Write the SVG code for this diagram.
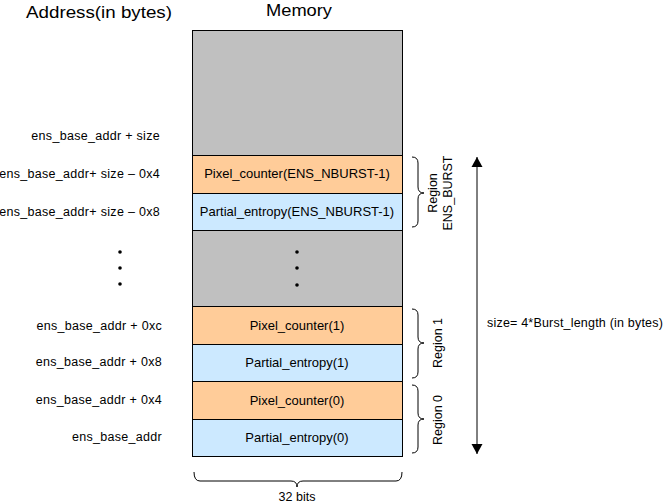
<svg xmlns="http://www.w3.org/2000/svg" width="664" height="504" viewBox="0 0 664 504">
<style>
text{font-family:"Liberation Sans",Arial,sans-serif;fill:#000}
.title{font-size:17px}
.addr{font-size:12.5px;text-anchor:end;letter-spacing:0.3px}
.cell{font-size:13px;text-anchor:middle}
.lbl{font-size:12.5px;text-anchor:middle}
.gray{fill:#C0C0C0;stroke:#000;stroke-width:1}
.orange{fill:#FFCC99;stroke:#000;stroke-width:1}
.blue{fill:#CCE9FF;stroke:#000;stroke-width:1}
.brace{fill:none;stroke:#000;stroke-width:1}
</style>
<defs>
<marker id="ah" viewBox="0 0 10 14" refX="10" refY="7" markerWidth="10" markerHeight="14" markerUnits="userSpaceOnUse" orient="auto-start-reverse">
<path d="M0,1.5 L10,7 L0,12.5 Z" fill="#000"/>
</marker>
</defs>
<text class="title" x="26" y="18" textLength="146" lengthAdjust="spacingAndGlyphs">Address(in bytes)</text>
<text class="title" x="266" y="15.5" textLength="66" lengthAdjust="spacingAndGlyphs" style="font-size:16px">Memory</text>

<g id="memory">
<rect class="gray" x="192.5" y="30.5" width="210" height="125"/>
<g id="pc_n"><rect class="orange" x="192.5" y="155.5" width="210" height="38"/><text class="cell" x="297" y="178">Pixel_counter(ENS_NBURST-1)</text></g>
<g id="pe_n"><rect class="blue" x="192.5" y="193.5" width="210" height="37"/><text class="cell" x="297" y="216">Partial_entropy(ENS_NBURST-1)</text></g>
<rect class="gray" x="192.5" y="230.5" width="210" height="76"/>
<g id="pc_1"><rect class="orange" x="192.5" y="306.5" width="210" height="38"/><text class="cell" x="297" y="330">Pixel_counter(1)</text></g>
<g id="pe_1"><rect class="blue" x="192.5" y="344.5" width="210" height="37"/><text class="cell" x="297" y="367">Partial_entropy(1)</text></g>
<g id="pc_0"><rect class="orange" x="192.5" y="381.5" width="210" height="38"/><text class="cell" x="297" y="405">Pixel_counter(0)</text></g>
<g id="pe_0"><rect class="blue" x="192.5" y="419.5" width="210" height="37"/><text class="cell" x="297" y="442">Partial_entropy(0)</text></g>
<circle cx="297" cy="252" r="1.8"/><circle cx="297" cy="268" r="1.8"/><circle cx="297" cy="285" r="1.8"/>
</g>

<g id="addresses">
<text class="addr" x="160" y="140">ens_base_addr + size</text>
<text class="addr" x="160" y="178">ens_base_addr+ size – 0x4</text>
<text class="addr" x="160" y="216">ens_base_addr+ size – 0x8</text>
<circle cx="120" cy="252" r="1.8"/><circle cx="120" cy="268" r="1.8"/><circle cx="120" cy="284" r="1.8"/>
<text class="addr" x="162" y="330">ens_base_addr + 0xc</text>
<text class="addr" x="162" y="366">ens_base_addr + 0x8</text>
<text class="addr" x="162" y="404">ens_base_addr + 0x4</text>
<text class="addr" x="162" y="441">ens_base_addr</text>
</g>

<g id="braces">
<path class="brace" d="M412,157 Q418,157 418,163 L418,187 Q418,193 424,193 Q418,193 418,199 L418,221 Q418,227 412,227"/>
<path class="brace" d="M412,309 Q418,309 418,315 L418,337 Q418,343 424,343 Q418,343 418,349 L418,372 Q418,378 412,378"/>
<path class="brace" d="M412,385 Q418,385 418,391 L418,413 Q418,419 424,419 Q418,419 418,425 L418,447 Q418,453 412,453"/>
<path class="brace" d="M194,472 Q194,481 200,481 L291,481 Q297,481 297,487 Q297,481 303,481 L396,481 Q402,481 402,472"/>
</g>

<g id="region-labels">
<text class="lbl" transform="translate(437,193) rotate(-90)">Region</text>
<text class="lbl" transform="translate(452,193) rotate(-90)">ENS_BURST</text>
<text class="lbl" transform="translate(442,343) rotate(-90)">Region 1</text>
<text class="lbl" transform="translate(442,420) rotate(-90)">Region 0</text>
<text class="lbl" x="297" y="501">32 bits</text>
</g>

<g id="connectors">
<line x1="477" y1="157" x2="477" y2="454" stroke="#000" stroke-width="1" marker-start="url(#ah)" marker-end="url(#ah)"/>
<text x="487" y="327" style="font-size:12.5px;letter-spacing:0.2px">size= 4*Burst_length (in bytes)</text>
</g>
</svg>
